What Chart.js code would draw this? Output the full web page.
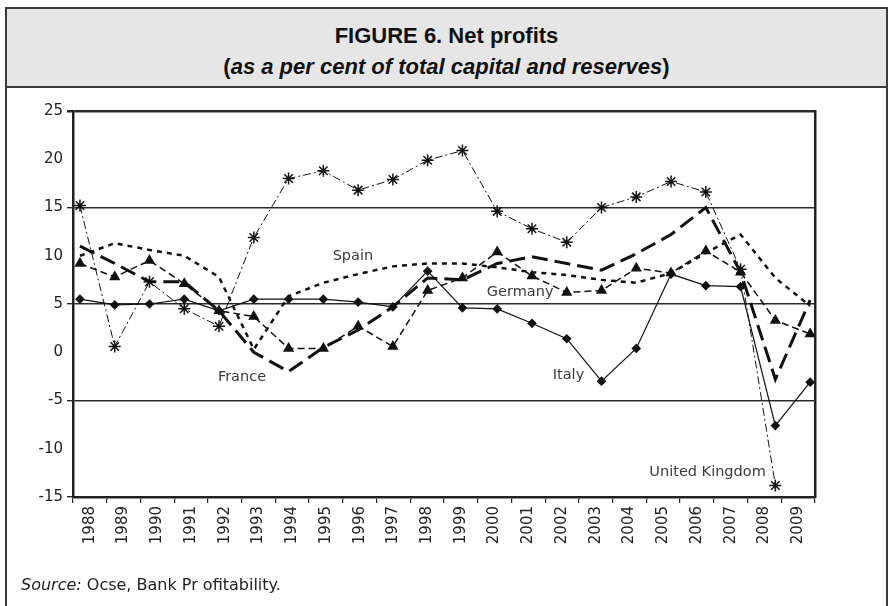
<!DOCTYPE html>
<html>
<head>
<meta charset="utf-8">
<script src="https://cdn.jsdelivr.net/npm/chart.js@4.4.0/dist/chart.umd.min.js"></script>
<style>
  html, body { margin: 0; padding: 0; background: #fff; }
  #wrap { position: relative; width: 889px; height: 606px; overflow: hidden; }
  #frame { position: absolute; left: 5px; top: 7px; width: 879px; height: 660px; border: 2px solid #3a3a3a; }
  #title {
    position: absolute; left: 7px; top: 9px; width: 879px; height: 79px;
    box-sizing: border-box; padding-top: 11px;
    background: #e6e6e6; border-bottom: 2px solid #3a3a3a;
    text-align: center; color: #111;
    font-family: "Liberation Sans", Arial, sans-serif; font-weight: bold; font-size: 22px; line-height: 31px;
  }
  #source { position: absolute; left: 21px; top: 575px; font-family: "DejaVu Sans", sans-serif; font-size: 16px; color: #222; }
  canvas { position: absolute; left: 0; top: 0; }
</style>
</head>
<body>
<div id="wrap">
  <div id="frame"></div>
  <div id="title">FIGURE 6. Net profits<br>(<i>as a per cent of total capital and reserves</i>)</div>
  <canvas id="chartNetProfits" width="889" height="606"></canvas>
  <div id="source"><i>Source:</i> Ocse, Bank Pr ofitability.</div>
</div>
<script>
const years = ['1988', '1989', '1990', '1991', '1992', '1993', '1994', '1995', '1996', '1997', '1998',
               '1999', '2000', '2001', '2002', '2003', '2004', '2005', '2006', '2007', '2008', '2009'];

const italy   = [5.5, 4.9, 5.0, 5.5, 4.3, 5.5, 5.5, 5.5, 5.2, 4.7, 8.4, 4.6, 4.5, 3.0, 1.4, -3.0, 0.4, 8.1, 6.9, 6.8, -7.6, -3.1];
const germany = [9.2, 7.8, 9.5, 7.1, 4.3, 3.7, 0.4, 0.4, 2.7, 0.6, 6.4, 7.7, 10.4, 7.9, 6.2, 6.4, 8.7, 8.2, 10.5, 8.3, 3.3, 1.9];
const unitedKingdom = [15.2, 0.6, 7.3, 4.5, 2.7, 11.9, 18.0, 18.8, 16.8, 17.9, 19.9, 20.9, 14.6, 12.8, 11.4, 15.0, 16.1, 17.7, 16.6, 8.6, -13.8, null];
const france  = [11.0, 9.2, 7.3, 7.3, 4.3, 0.0, -2.0, 0.5, 2.3, 4.7, 7.7, 7.5, 9.2, 9.9, 9.2, 8.5, 10.2, 12.2, 15.0, 8.3, -2.8, 5.4];
const spain   = [10.0, 11.3, 10.6, 10.0, 7.8, 0.3, 5.8, 7.2, 8.1, 8.9, 9.2, 9.2, 8.8, 8.3, 8.0, 7.5, 7.2, 8.2, 10.3, 12.2, 7.7, 4.8];

// country names written next to the lines (x = year index, y = value)
const notes = [
    { text: 'Spain', x: 7.85, y: 9.9 },
    { text: 'Germany', x: 12.66, y: 6.2 },
    { text: 'France', x: 4.66, y: -2.6 },
    { text: 'Italy', x: 14.05, y: -2.4 },
    { text: 'United Kingdom', x: 18.05, y: -12.4 }
];

const ink = '#111';
const fontAxis = { family: 'DejaVu Sans', size: 15 };

function pts(arr) {
    return arr.map((v, i) => ({ x: i, y: v }));
}

const notesPlugin = {
    id: 'notes',
    afterDatasetsDraw(chart) {
        const ctx = chart.ctx;
        const xs = chart.scales.xd, ys = chart.scales.y;
        ctx.save();
        ctx.font = '14.5px "DejaVu Sans"';
        ctx.fillStyle = '#3a3a3a';
        ctx.textAlign = 'center';
        ctx.textBaseline = 'middle';
        notes.forEach(n => ctx.fillText(n.text, xs.getPixelForValue(n.x), ys.getPixelForValue(n.y)));
        ctx.restore();
    }
};

new Chart(document.getElementById('chartNetProfits'), {
    type: 'line',
    data: {
        datasets: [
            {
                label: 'Italy', data: pts(italy), xAxisID: 'xd',
                borderColor: ink, borderWidth: 1.2,
                pointStyle: 'rectRot', pointRadius: 4, pointBackgroundColor: ink, pointBorderColor: ink
            },
            {
                label: 'Germany', data: pts(germany), xAxisID: 'xd',
                borderColor: ink, borderWidth: 1.5, borderDash: [7, 4],
                pointStyle: 'triangle', pointRadius: 5, pointBackgroundColor: ink, pointBorderColor: ink
            },
            {
                label: 'United Kingdom', data: pts(unitedKingdom), xAxisID: 'xd',
                borderColor: ink, borderWidth: 1, borderDash: [8, 3, 2, 3],
                pointStyle: 'star', pointRadius: 6, pointBorderWidth: 1.5, pointBorderColor: ink
            },
            {
                label: 'France', data: pts(france), xAxisID: 'xd',
                borderColor: ink, borderWidth: 3, borderDash: [16, 7], pointRadius: 0
            },
            {
                label: 'Spain', data: pts(spain), xAxisID: 'xd',
                borderColor: ink, borderWidth: 2.5, borderDash: [5, 5], pointRadius: 0
            }
        ]
    },
    options: {
        responsive: false,
        animation: false,
        spanGaps: false,
        elements: { line: { tension: 0, fill: false } },
        layout: { padding: { left: 0, top: 111, right: 74, bottom: 49 } },
        plugins: { legend: { display: false }, tooltip: { enabled: false } },
        scales: {
            x: {
                type: 'category', labels: years, offset: true, position: 'bottom',
                grid: { offset: true, drawOnChartArea: false, tickLength: 6, color: '#222', lineWidth: 1.2 },
                border: { width: 2.5, color: '#222' },
                ticks: { minRotation: 90, maxRotation: 90, autoSkip: false, padding: 3, color: '#222', font: fontAxis },
                afterFit: s => { s.height = 60; }
            },
            xd: {
                type: 'linear', display: false, min: -0.2, max: 21.14
            },
            y: {
                min: -15, max: 25,
                ticks: { stepSize: 5, padding: 4, color: '#222', font: fontAxis },
                grid: {
                    tickLength: 6,
                    color: c => (Math.abs(c.tick.value) % 10 === 5 ? '#2a2a2a' : 'rgba(0,0,0,0)'),
                    lineWidth: c => (c.tick.value === 25 ? 2.5 : 1.4)
                },
                border: { width: 2.5, color: '#222' },
                afterFit: s => { s.width = 73; }
            },
            yr: {
                position: 'right', min: -15, max: 25,
                ticks: { display: false },
                grid: { drawOnChartArea: false, drawTicks: false },
                border: { width: 2.5, color: '#222' },
                afterFit: s => { s.width = 0; }
            }
        }
    },
    plugins: [notesPlugin]
});
</script>
</body>
</html>
